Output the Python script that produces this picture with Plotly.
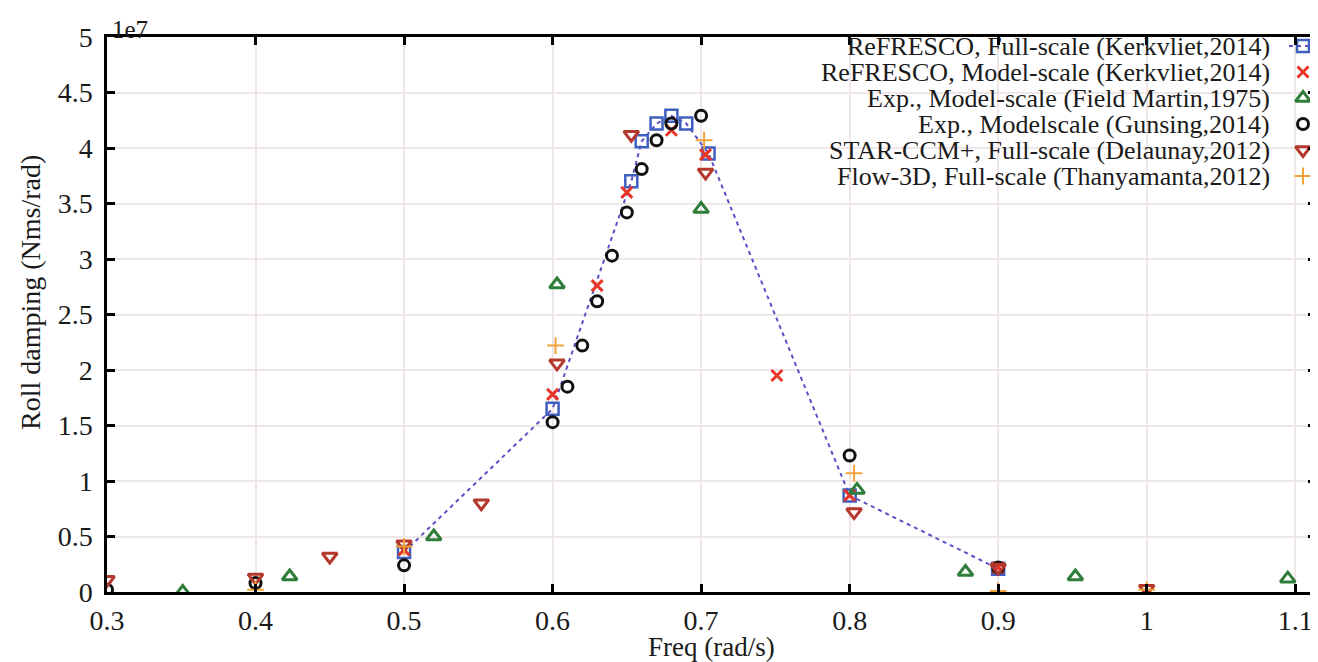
import plotly.graph_objects as go

# Roll damping vs frequency, values in units of 1e7 Nms/rad
refresco_fs_x = [0.5, 0.6, 0.653, 0.66, 0.67, 0.68, 0.69, 0.705, 0.8, 0.9]
refresco_fs_y = [0.36, 1.65, 3.70, 4.06, 4.22, 4.29, 4.22, 3.95, 0.87, 0.21]

refresco_ms_x = [0.5, 0.6, 0.63, 0.65, 0.68, 0.703, 0.751, 0.8, 0.9]
refresco_ms_y = [0.38, 1.78, 2.76, 3.60, 4.16, 3.94, 1.95, 0.87, 0.22]

field_x = [0.351, 0.423, 0.52, 0.603, 0.7, 0.805, 0.878, 0.952, 1.095]
field_y = [0.0, 0.14, 0.50, 2.77, 3.45, 0.92, 0.18, 0.14, 0.12]

gunsing_x = [0.3, 0.4, 0.5, 0.6, 0.61, 0.62, 0.63, 0.64, 0.65, 0.66, 0.67, 0.68, 0.7, 0.8, 0.9]
gunsing_y = [0.02, 0.08, 0.24, 1.53, 1.85, 2.22, 2.62, 3.03, 3.42, 3.81, 4.07, 4.22, 4.29, 1.23, 0.22]

star_x = [0.3, 0.4, 0.45, 0.5, 0.552, 0.603, 0.653, 0.703, 0.803, 0.9, 1.0]
star_y = [0.11, 0.13, 0.32, 0.43, 0.80, 2.06, 4.12, 3.78, 0.72, 0.22, 0.03]

flow_x = [0.4, 0.5, 0.602, 0.702, 0.803, 0.9, 1.0]
flow_y = [0.02, 0.41, 2.22, 4.07, 1.07, 0.01, 0.02]

legend_labels = [
    "ReFRESCO, Full-scale (Kerkvliet,2014)",
    "ReFRESCO, Model-scale (Kerkvliet,2014)",
    "Exp., Model-scale (Field Martin,1975)",
    "Exp., Modelscale (Gunsing,2014)",
    "STAR-CCM+, Full-scale (Delaunay,2012)",
    "Flow-3D, Full-scale (Thanyamanta,2012)",
]

FONT = "Liberation Serif, Times New Roman, serif"
TXT = "#1a1a1a"
LINE_COL = "#5b4fc4"

_STYLES = [
    dict(symbol="square-open", size=12, color="#3f5fc0", lw=2.5),
    dict(symbol="x-thin-open", size=11, color="#e8352a", lw=3),
    dict(symbol="triangle-up-open", size=13, color="#2f7d3a", lw=3),
    dict(symbol="circle-open", size=11, color="#111111", lw=3),
    dict(symbol="triangle-down-open", size=13, color="#b5382c", lw=3),
    dict(symbol="cross-thin-open", size=12, color="#f2a43a", lw=2),
]


def _marker(st):
    return dict(symbol=st["symbol"], size=st["size"], color=st["color"],
                line=dict(color=st["color"], width=st["lw"]))


def _txt(size):
    return dict(family=FONT, size=size, color=TXT)


fig = go.Figure()

fig.add_trace(go.Scatter(
    x=refresco_fs_x, y=refresco_fs_y, mode="lines",
    line=dict(color=LINE_COL, width=2, dash="4px,4px"), hoverinfo="skip",
))
series = [
    (refresco_fs_x, refresco_fs_y),
    (refresco_ms_x, refresco_ms_y),
    (field_x, field_y),
    (gunsing_x, gunsing_y),
    (star_x, star_y),
    (flow_x, flow_y),
]
for (xs, ys), st, name in zip(series, _STYLES, legend_labels):
    fig.add_trace(go.Scatter(x=xs, y=ys, mode="markers", name=name, marker=_marker(st)))

# hand-built legend: text right-aligned, key to the right (overlay axes in window pixels)
row_y = [46, 72, 98, 124, 150, 176]
key_x = 1303
fig.add_trace(go.Scatter(
    x=[1289, 1317], y=[row_y[0], row_y[0]], mode="lines", xaxis="x2", yaxis="y2",
    line=dict(color=LINE_COL, width=2, dash="4px,4px"), hoverinfo="skip",
))
for st, ry, name in zip(_STYLES, row_y, legend_labels):
    fig.add_trace(go.Scatter(x=[key_x], y=[ry], mode="markers", xaxis="x2", yaxis="y2",
                             marker=_marker(st), hoverinfo="skip"))
    fig.add_annotation(x=1272, y=ry, xref="x2", yref="y2", text=name, showarrow=False,
                       xanchor="right", yanchor="middle", font=_txt(26))

# plot area spans window pixels x 107..1316, y 37..592
fig.add_annotation(x=0, y=1, xref="paper", yref="paper", text="1e7", showarrow=False,
                   xanchor="left", yanchor="bottom", xshift=3, yshift=-8, font=_txt(25))
fig.add_annotation(x=(712 - 107) / 1209, y=(592 - 647) / 555, xref="paper", yref="paper",
                   text="Freq (rad/s)", showarrow=False, xanchor="center", yanchor="middle",
                   font=_txt(27))
fig.add_annotation(x=(30 - 107) / 1209, y=(592 - 293) / 555, xref="paper", yref="paper",
                   text="Roll damping (Nms/rad)", showarrow=False, textangle=-90,
                   xanchor="center", yanchor="middle", font=_txt(28))

axis_common = dict(
    showline=True, linecolor="#000", linewidth=2.5, mirror="ticks",
    ticks="inside", ticklen=8, tickwidth=2.5, tickcolor="#000",
    showgrid=True, gridcolor="#efe7e7", gridwidth=1.5, zeroline=False,
    tickfont=_txt(28),
    automargin=False,
)
fig.update_xaxes(range=[0.3, 1.114], dtick=0.1, tick0=0.3, ticklabelstandoff=2, **axis_common)
fig.update_yaxes(range=[0, 5], dtick=0.5, ticklabelstandoff=6, **axis_common)

# page body has an 8px margin, so the figure is shifted; keep the plot area at 107..1316 x 37..592
fig.update_layout(
    width=1310, height=654,
    margin=dict(l=99, r=2, t=29, b=70),
    paper_bgcolor="#fff", plot_bgcolor="#fff",
    showlegend=False,
    xaxis2=dict(overlaying="x", range=[107, 1316], visible=False, fixedrange=True),
    yaxis2=dict(overlaying="y", range=[592, 37], visible=False, fixedrange=True),
)

fig.write_html("out.html")
